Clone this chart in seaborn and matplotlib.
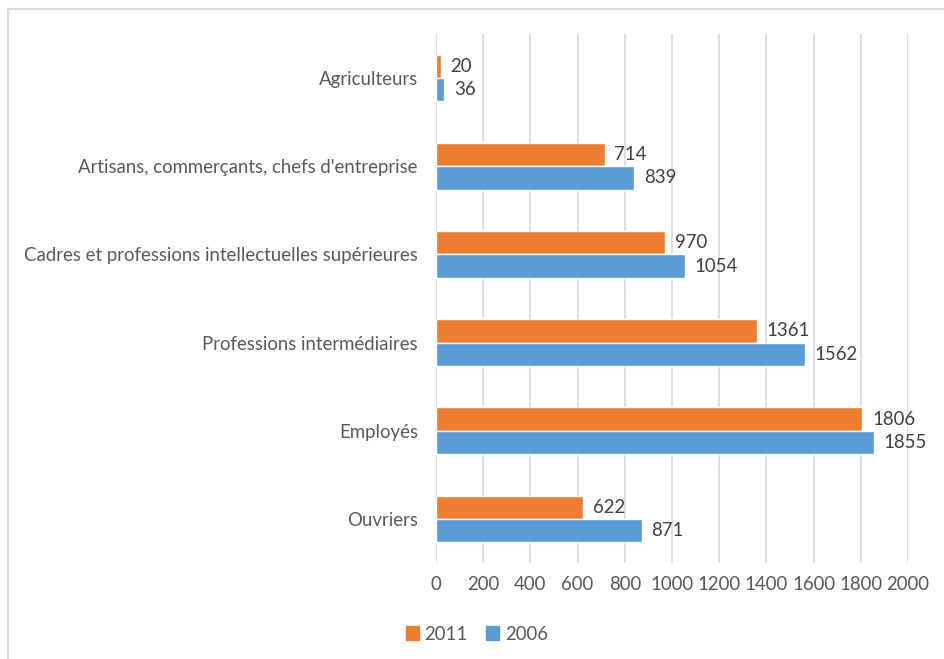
import matplotlib
matplotlib.use("Agg")
import matplotlib.pyplot as plt
import matplotlib.lines as mlines
import seaborn as sns
import pandas as pd

categories = [
    "Agriculteurs",
    "Artisans, commerçants, chefs d'entreprise",
    "Cadres et professions intellectuelles supérieures",
    "Professions intermédiaires",
    "Employés",
    "Ouvriers",
]
values_2011 = [20, 714, 970, 1361, 1806, 622]
values_2006 = [36, 839, 1054, 1562, 1855, 871]
years = ["2011", "2006"]
x_ticks = list(range(0, 2001, 200))

colors = {"2011": "#ED7D31", "2006": "#5B9BD5"}
text_color = "#595959"
fs = 13.4

df = pd.DataFrame({
    "categorie": categories * 2,
    "valeur": values_2011 + values_2006,
    "annee": ["2011"] * len(categories) + ["2006"] * len(categories),
})

sns.set_theme(style="white")
plt.rcParams["font.family"] = ["Lato", "DejaVu Sans"]

fig = plt.figure(figsize=(9.45, 6.59), dpi=100)
ax = fig.add_axes([436 / 945, 1 - 563 / 659, (908 - 436) / 945, (563 - 34) / 659])

sns.barplot(
    data=df, y="categorie", x="valeur", hue="annee",
    hue_order=years, order=categories, orient="h",
    palette=colors, width=0.53, saturation=1, ax=ax, legend=False,
)

for container in ax.containers:
    ax.bar_label(container, padding=7, fontsize=fs, color="#404040")

ax.set_xlim(0, 2000)
ax.set_ylim(len(categories) - 0.5, -0.5)
ax.set_xticks(x_ticks)
ax.set_xticklabels([str(t) for t in x_ticks])
ax.set_xlabel("")
ax.set_ylabel("")
ax.grid(axis="x", color="#d9d9d9", linewidth=1.2)
ax.grid(axis="y", visible=False)
ax.set_axisbelow(True)
for s in ax.spines.values():
    s.set_visible(False)
ax.tick_params(axis="y", length=0, pad=13, labelsize=fs, labelcolor=text_color)
ax.tick_params(axis="x", length=0, pad=9, labelsize=fs, labelcolor=text_color)

handles = [
    plt.Rectangle((0, 0), 1, 1, color=colors[y]) for y in years
]
fig.legend(
    handles, years, loc="center", bbox_to_anchor=(477 / 945, 1 - 634 / 659),
    ncol=2, frameon=False, fontsize=fs, labelcolor=text_color,
    handlelength=0.7, handleheight=0.7, handletextpad=0.3, columnspacing=1.0,
)

# light frame around the chart area
frame_color = "#d9d9d9"
fig.add_artist(mlines.Line2D([8 / 945, 1], [1 - 9 / 659, 1 - 9 / 659],
                             transform=fig.transFigure, color=frame_color, lw=1.5))
fig.add_artist(mlines.Line2D([8 / 945, 8 / 945], [0, 1 - 9 / 659],
                             transform=fig.transFigure, color=frame_color, lw=1.5))

fig.savefig("out.png", dpi=100)
